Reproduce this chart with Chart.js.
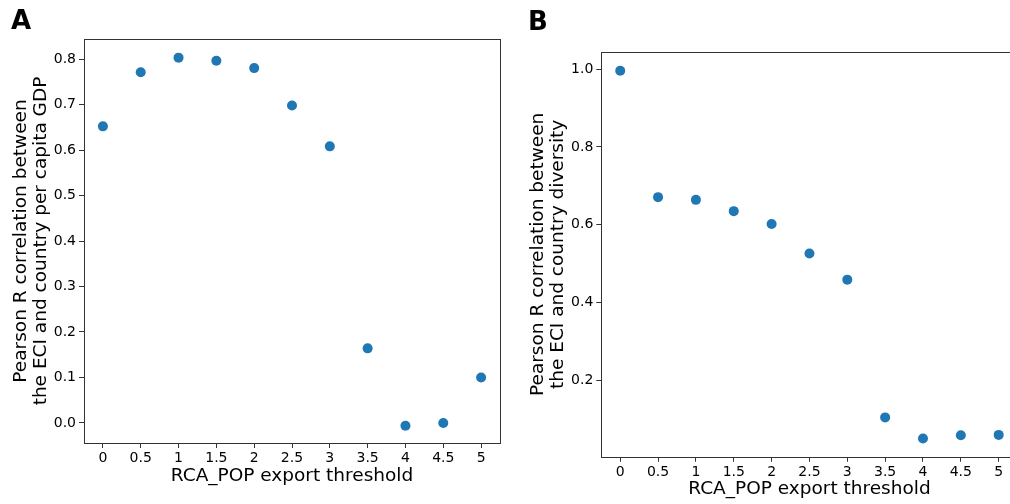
<!DOCTYPE html>
<html>
<head>
<meta charset="utf-8">
<script src="https://cdn.jsdelivr.net/npm/chart.js@4.4.1/dist/chart.umd.min.js"></script>
<style>
  html, body { margin: 0; padding: 0; background: #fff; overflow: hidden; width: 1010px; height: 504px; }
  canvas { position: absolute; top: 0; }
  #chartA { left: 0; }
  #chartB { left: 510px; }
</style>
</head>
<body>
<canvas id="chartA" width="520" height="504"></canvas>
<canvas id="chartB" width="530" height="504"></canvas>
<script>
// --- DATA ---
const thresholds = [0, 0.5, 1, 1.5, 2, 2.5, 3, 3.5, 4, 4.5, 5];
const corrGdp = [0.652, 0.771, 0.803, 0.796, 0.780, 0.698, 0.608, 0.164, -0.006, 0.000, 0.100];
const corrDiversity = [0.996, 0.671, 0.664, 0.635, 0.602, 0.526, 0.459, 0.105, 0.051, 0.059, 0.060];
const xTickLabels = ['0', '0.5', '1', '1.5', '2', '2.5', '3', '3.5', '4', '4.5', '5'];
const yTicksA = [0, 0.1, 0.2, 0.3, 0.4, 0.5, 0.6, 0.7, 0.8];
const yTicksB = [0.2, 0.4, 0.6, 0.8, 1.0];

const xTitle = 'RCA_POP export threshold';
const yTitleA = ['Pearson R correlation between', 'the ECI and country per capita GDP'];
const yTitleB = ['Pearson R correlation between', 'the ECI and country diversity'];

const FONT = "'DejaVu Sans', sans-serif";
const BLUE = '#1f77b4';
const LINE = '#333';

// frame round the plot area + panel letter
const framePlugin = {
    id: 'frame',
    afterDraw(chart, args, opts) {
        const { ctx, chartArea: a } = chart;
        ctx.save();
        ctx.strokeStyle = LINE;
        ctx.lineWidth = 1;
        ctx.strokeRect(Math.round(a.left) + 0.5, Math.round(a.top) + 0.5,
            Math.round(a.right - a.left), Math.round(a.bottom - a.top));
        ctx.fillStyle = '#000';
        ctx.font = 'bold 26px ' + FONT;
        ctx.textBaseline = 'alphabetic';
        ctx.fillText(opts.letter, opts.lx, opts.ly);
        ctx.restore();
    }
};

function makeChart(id, values, yMin, yMax, yTicks, yTitle, cfg) {
    const ctx = document.getElementById(id).getContext('2d');
    return new Chart(ctx, {
        type: 'scatter',
        data: {
            datasets: [{
                data: thresholds.map((t, i) => ({ x: t, y: values[i] })),
                backgroundColor: BLUE,
                borderWidth: 0,
                pointRadius: 5,
                pointHoverRadius: 5
            }]
        },
        plugins: [framePlugin],
        options: {
            responsive: false,
            animation: false,
            events: [],
            layout: { autoPadding: false, padding: { top: cfg.top, right: cfg.right, left: 0, bottom: 0 } },
            plugins: {
                legend: { display: false },
                tooltip: { enabled: false },
                frame: { letter: cfg.letter, lx: cfg.lx, ly: cfg.ly }
            },
            scales: {
                x: {
                    type: 'linear',
                    min: -0.25,
                    max: 5.25,
                    afterFit: s => { s.height = cfg.xHeight; },
                    afterBuildTicks: s => { s.ticks = thresholds.map(v => ({ value: v })); },
                    ticks: {
                        color: '#000',
                        font: { family: FONT, size: 14 },
                        padding: 2,
                        maxRotation: 0,
                        autoSkip: false,
                        callback: (v, i) => xTickLabels[i]
                    },
                    grid: { drawOnChartArea: false, tickLength: 5, color: LINE },
                    border: { display: false },
                    title: {
                        display: true,
                        text: xTitle,
                        color: '#000',
                        font: { family: FONT, size: 18.5, lineHeight: 1.1 },
                        padding: { top: 0, bottom: cfg.xTitlePad }
                    }
                },
                y: {
                    type: 'linear',
                    min: yMin,
                    max: yMax,
                    afterFit: s => { s.width = cfg.yWidth; },
                    afterBuildTicks: s => { s.ticks = yTicks.map(v => ({ value: v })); },
                    ticks: {
                        color: '#000',
                        font: { family: FONT, size: 14 },
                        padding: 3,
                        autoSkip: false,
                        callback: v => v.toFixed(1)
                    },
                    grid: { drawOnChartArea: false, tickLength: 5, color: LINE },
                    border: { display: false },
                    title: {
                        display: true,
                        text: yTitle,
                        color: '#000',
                        font: { family: FONT, size: 18.5, lineHeight: 1.1 },
                        padding: { top: cfg.yTitlePad, bottom: 0 }
                    }
                }
            }
        }
    });
}

makeChart('chartA', corrGdp, -0.044, 0.844, yTicksA, yTitleA, {
    top: 39, right: 20, xHeight: 61, yWidth: 84, xTitlePad: 17.8, yTitlePad: 10.8,
    letter: 'A', lx: 11, ly: 29
});

makeChart('chartB', corrDiversity, 0.004, 1.044, yTicksB, yTitleB, {
    top: 52, right: 22.4, xHeight: 47.3, yWidth: 91.3, xTitlePad: 4.8, yTitlePad: 17.8,
    letter: 'B', lx: 18, ly: 30
});
</script>
</body>
</html>
